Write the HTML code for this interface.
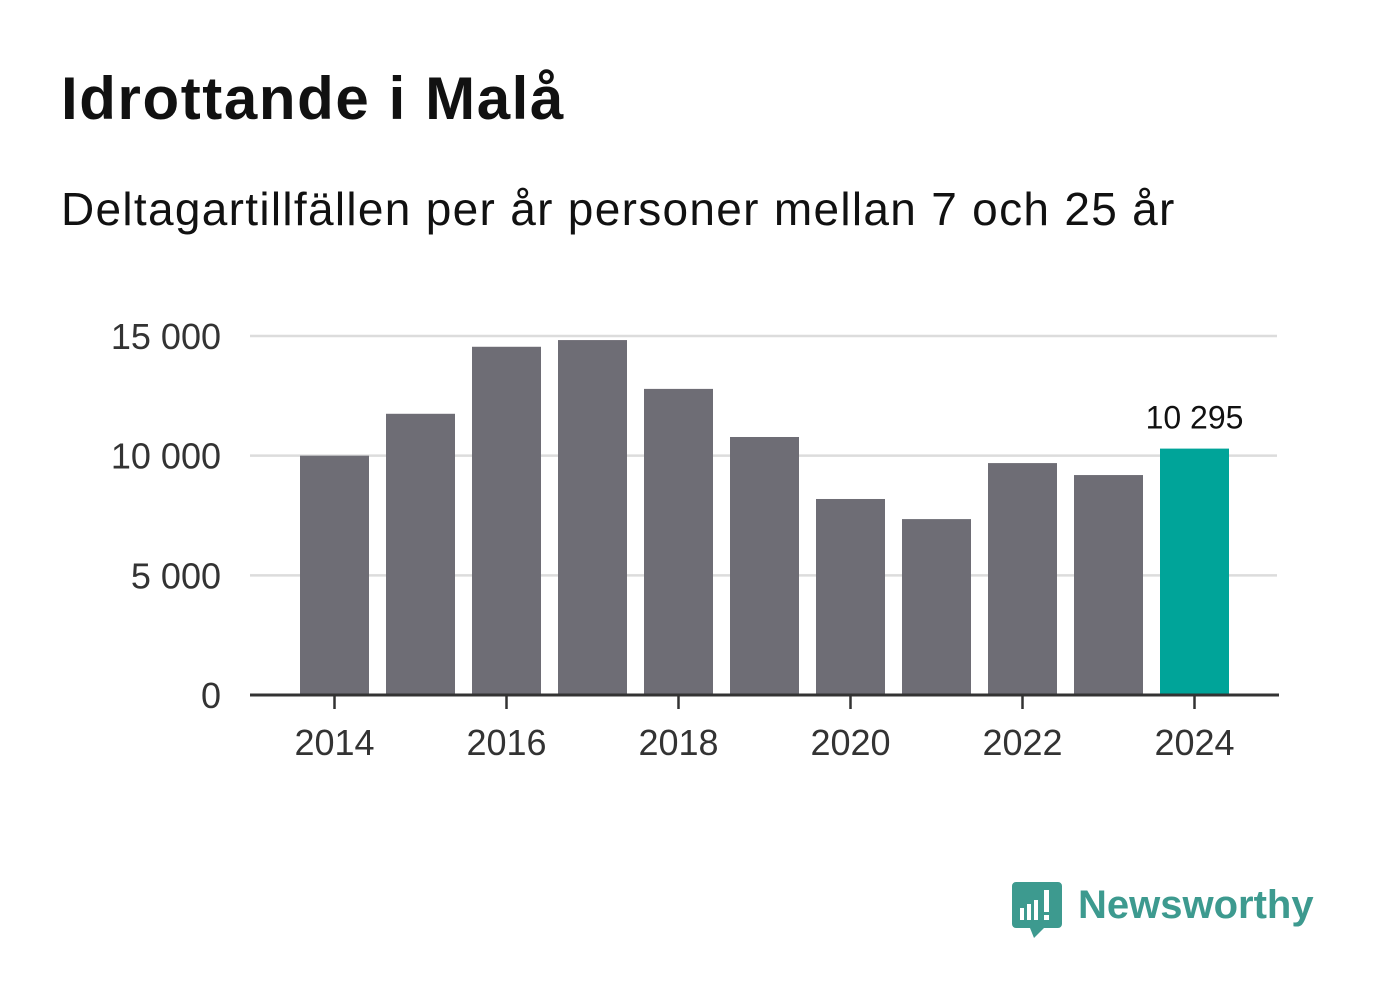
<!DOCTYPE html>
<html><head><meta charset="utf-8"><style>
body{margin:0;width:1382px;height:999px;background:#fff;font-family:"Liberation Sans","DejaVu Sans",sans-serif;position:relative;overflow:hidden}
#title{position:absolute;left:61px;top:64px;font-size:60px;font-weight:bold;color:#111;margin:0;letter-spacing:1.6px;white-space:nowrap}
#sub{position:absolute;left:61px;top:182px;font-size:46px;color:#111;letter-spacing:1.3px;white-space:nowrap}
svg{position:absolute;left:0;top:0}
</style></head><body>
<h1 id="title">Idrottande i Malå</h1>
<div id="sub">Deltagartillfällen per år personer mellan 7 och 25 år</div>
<svg id="chart" width="1382" height="999"></svg>
<svg width="1382" height="999" style="pointer-events:none">
<path d="M1016 882 h42 a4 4 0 0 1 4 4 v38 a4 4 0 0 1 -4 4 h-14 l-10 10 l-4 -10 h-14 a4 4 0 0 1 -4 -4 v-38 a4 4 0 0 1 4 -4z" fill="#3d9a8f"/>
<rect x="1020" y="908" width="4" height="12" fill="#fff"/><rect x="1027" y="904" width="4" height="16" fill="#fff"/><rect x="1034" y="900" width="4" height="20" fill="#fff"/><rect x="1044" y="890" width="5" height="22" fill="#fff"/><rect x="1044" y="915" width="5" height="5" fill="#fff"/>
<text x="1078" y="918" font-size="40" font-weight="bold" fill="#3d9a8f" font-family="Liberation Sans, sans-serif">Newsworthy</text>
</svg>
<script>
const years=[2014,2015,2016,2017,2018,2019,2020,2021,2022,2023,2024];
const values=[10000,11750,14550,14830,12790,10780,8190,7350,9690,9190,10295];
const yTicks=[0,5000,10000,15000];
const yTickLabels=["0","5 000","10 000","15 000"];
const xTickYears=[2014,2016,2018,2020,2022,2024];
const lastLabel="10 295";
const NS="http://www.w3.org/2000/svg";
const svg=document.getElementById('chart');
const y=v=>695-v*(359/15000);
const x=yr=>334.5+(yr-2014)*86;
function mk(t,a){const e=document.createElementNS(NS,t);for(const k in a)e.setAttribute(k,a[k]);svg.appendChild(e);return e;}
yTicks.forEach((v,i)=>{
 if(v>0){const l=mk('line',{x1:250,x2:1277,y1:y(v),y2:y(v),stroke:'#dcdcdc','stroke-width':2.5});
 
 }
 const t=mk('text',{x:221,y:y(v)+13,'text-anchor':'end','font-size':36,fill:'#333'});t.textContent=yTickLabels[i];
 
 
});
years.forEach((yr,i)=>{
 const r=mk('rect',{x:x(yr)-34.5,y:y(values[i]),width:69,height:695-y(values[i]),fill:i==years.length-1?'#00a499':'#6e6d75'});
 
 
});
const li=years.length-1;
const lt=mk('text',{x:x(years[li]),y:y(values[li])-20,'text-anchor':'middle','font-size':32,fill:'#111'});lt.textContent=lastLabel;


const ax=mk('line',{x1:250,x2:1279,y1:695,y2:695,stroke:'#333','stroke-width':3});


xTickYears.forEach(yr=>{
 const tk=mk('line',{x1:x(yr),x2:x(yr),y1:695,y2:709,stroke:'#333','stroke-width':2.5});
 
 
 const t=mk('text',{x:x(yr),y:755,'text-anchor':'middle','font-size':36,fill:'#333'});t.textContent=yr;
 
 
});
</script>
</body></html>
